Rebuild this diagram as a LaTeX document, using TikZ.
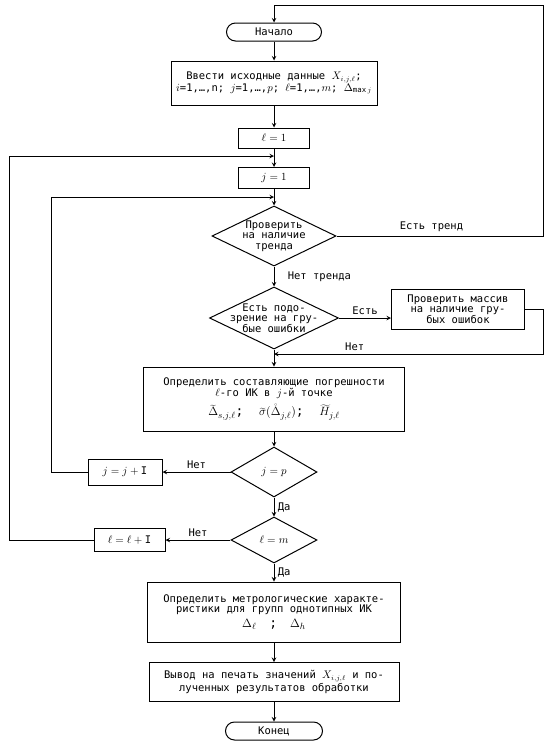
\documentclass[tikz,border=0pt]{standalone}
\usepackage{fontspec}
\setmainfont{DejaVu Sans Mono}
\usetikzlibrary{shapes,arrows,positioning,calc}

\begin{document}
\begin{tikzpicture}[
    x=1pt, y=-1pt,
    line width=1pt,
    font=\fontsize{10.5}{10.5}\selectfont,
    box/.style={rectangle, draw, align=center, inner sep=2pt},
    term/.style={rectangle, draw, rounded corners=9pt, minimum width=95pt,
                 minimum height=18pt, inner sep=1pt},
    cond/.style={diamond, draw, align=center, aspect=2, inner xsep=-12pt, inner ysep=0pt},
    arrow/.style={->, >=stealth}
]
\useasboundingbox (0,0) rectangle (552,750);
\node[term] (start) at (274,32) {Начало};
\node[box, minimum width=206pt, minimum height=44pt] (input) at (274,83)
    {Ввести исходные данные $X_{i,j,\ell}$;\\$i$=1,\ldots,n; $j$=1,\ldots,$p$; $\ell$=1,\ldots,$m$; $\Delta_{\max j}$};
\node[box, minimum width=71pt, minimum height=20pt] (l1) at (274,138) {$\ell=1$};
\node[box, minimum width=71pt, minimum height=21pt] (j1) at (274,178) {$j=1$};
\node[cond, minimum width=124pt, minimum height=60pt] (trend) at (274,236) {Проверить\\на наличие\\тренда};
\node[cond, minimum width=129pt, minimum height=62pt] (suspect) at (274,318) {Есть подо-\\зрение на гру-\\бые ошибки};
\node[box, minimum width=133pt, minimum height=40pt] (mass) at (458,309) {Проверить массив\\на наличие гру-\\бых ошибок};
\node[box, minimum width=261pt, minimum height=64pt] (calc) at (274,399)
    {Определить составляющие погрешности\\$\ell$-го ИК в $j$-й точке\\[5pt]\fontsize{13}{13}\selectfont
     $\widetilde{\Delta}_{s,j,\ell}$;\ \ $\widetilde{\sigma}(\mathring{\Delta}_{j,\ell})$;\ \ $\widetilde{H}_{j,\ell}$};
\node[cond, minimum width=86pt, minimum height=50pt] (jp) at (274,472) {$j=p$};
\node[cond, minimum width=86pt, minimum height=46pt] (lm) at (274,540) {$\ell=m$};
\node[box, left=68pt of jp, minimum width=74pt, minimum height=26pt] (jinc) {$j=j+\mathrm{I}$};
\node[box, left=65pt of lm, minimum width=71pt, minimum height=23pt] (linc) {$\ell=\ell+\mathrm{I}$};
\node[box, minimum width=253pt, minimum height=60pt] (metro) at (274,612)
    {Определить метрологические характе-\\ристики для групп однотипных ИК\\[4pt]\fontsize{13}{13}\selectfont
     $\Delta_\ell$\quad;\quad$\Delta_h$};
\node[box, minimum width=250pt, minimum height=39pt] (out) at (274,682)
    {Вывод на печать значений $X_{i,j,\ell}$ и по-\\лученных результатов обработки};
\node[term, minimum width=97pt] (stop) at (274,731) {Конец};
\coordinate (topright) at (543,5);
\coordinate (lret) at (274,156);
\coordinate (jret) at (274,197);
\coordinate (merge) at (274,354);
\draw[arrow] (start) -- (input);
\draw[arrow] (input) -- (l1);
\draw[arrow] (l1) -- (j1);
\draw[arrow] (j1) -- (trend);
\draw[arrow] (trend) -- node[right=10pt]{Нет тренда} (suspect);
\draw[arrow] (trend.east) -| node[pos=0.23, above]{Есть тренд} (topright) -| (start.north);
\draw[arrow] (suspect.east) -- node[above]{Есть} (suspect.east -| mass.west);
\draw[arrow] (mass.east) -- ++(18,0) |- node[pos=0.85, above]{Нет} (merge);
\draw[arrow] (suspect) -- (calc);
\draw[arrow] (calc) -- (jp);
\draw[arrow] (jp) -- node[above]{Нет} (jinc);
\draw[arrow] (jinc.west) -- ++(-36,0) |- (jret);
\draw[arrow] (jp) -- node[right]{Да} (lm);
\draw[arrow] (lm) -- node[above]{Нет} (linc);
\draw[arrow] (linc.west) -- ++(-84,0) |- (lret);
\draw[arrow] (lm) -- node[right]{Да} (metro);
\draw[arrow] (metro) -- (out);
\draw[arrow] (out) -- (stop);
\end{tikzpicture}
\end{document}
